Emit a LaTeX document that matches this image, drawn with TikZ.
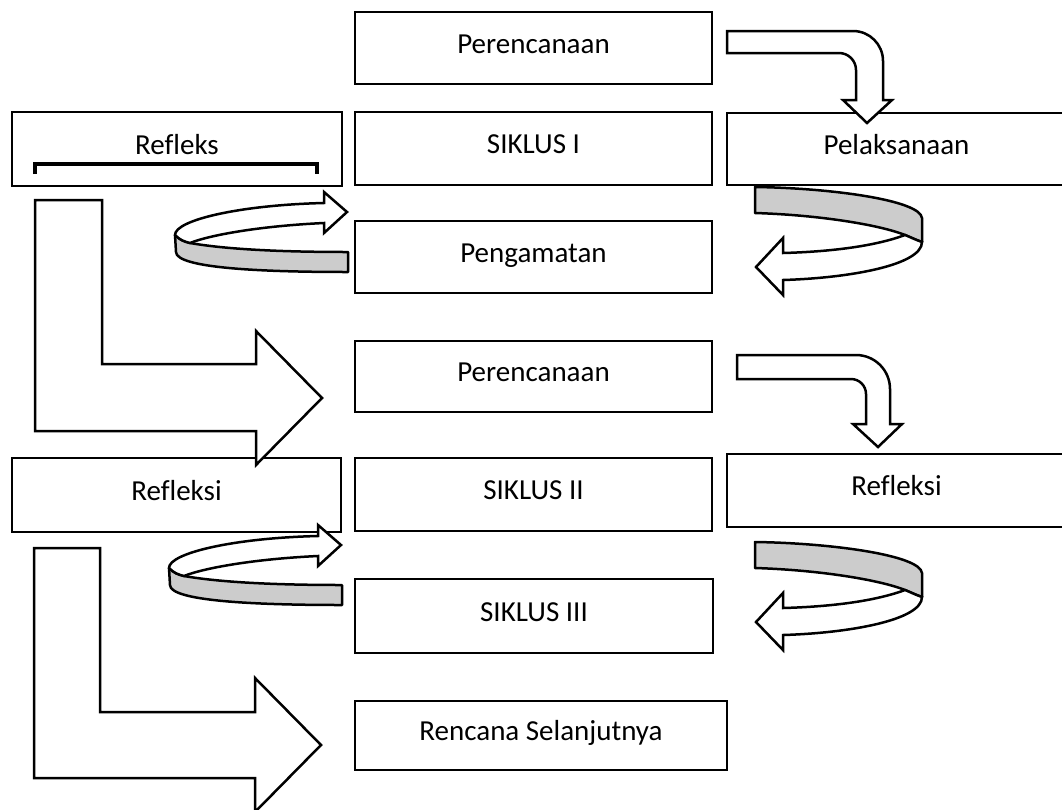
\documentclass[tikz,border=0pt]{standalone}
\usepackage{fontspec}
\setmainfont{Carlito}[Ligatures=NoCommon]
\definecolor{ribbongray}{HTML}{CCCCCC}
\begin{document}
\begin{tikzpicture}[x=1pt,y=-1pt,
  box/.style={draw, line width=2.6pt, fill=white, rectangle, inner sep=0pt, outer sep=0pt,
    text height=20pt, text depth=10pt, font=\fontsize{29}{34}\selectfont},
  blockarrow/.style={draw, line width=2.5pt, fill=white, line join=miter},
  ribbon/.style={draw, line width=2.5pt, fill=ribbongray, line join=round},
  ribbonhead/.style={draw, line width=2.5pt, fill=white, line join=miter},
  % curled arrow turning back to the right (left column)
  curlright/.pic={
    \path[ribbon] (175,235) .. controls (180,240) and (184,241.5) .. (190,243)
      .. controls (230,250) and (290,252) .. (348,252) -- (348,272)
      .. controls (260,272) and (176,268) .. (176,252) -- cycle;
    \path[ribbonhead] (175,235) .. controls (175,220) and (240,205) .. (324,203)
      -- (324,192) -- (347,212) -- (324,233) -- (324,223)
      .. controls (260,226) and (210,235) .. (190,243)
      .. controls (184,241.5) and (180,240) .. (175,235) -- cycle;
  },
  % curled arrow turning back to the left (right column)
  curlleft/.pic={
    \path[ribbon] (755,187) .. controls (830,188) and (920,200) .. (922,218) -- (922,242)
      .. controls (916,240) and (910,237) .. (905,235)
      .. controls (880,225) and (820,215) .. (755,213) -- cycle;
    \path[ribbonhead] (905,235) .. controls (870,248) and (820,252) .. (783,253)
      -- (783,238) -- (756,267) -- (783,295) -- (783,280)
      .. controls (850,278) and (922,265) .. (922,242)
      .. controls (916,240) and (910,237) .. (905,235) -- cycle;
  }]
\clip (0,0) rectangle (1062,809);

% boxes
\node[box, minimum width=357pt, minimum height=72pt] (plan1) at (533.5,48) {Perencanaan};
\node[box, minimum width=330pt, minimum height=74pt] (refleks) at (177,149) {Refleks};
\node[box, minimum width=357pt, minimum height=73pt] (siklus1) at (533.5,148.5) {SIKLUS I};
\node[box, minimum width=339pt, minimum height=72pt] (laksana) at (896.5,149) {Pelaksanaan};
\node[box, minimum width=357pt, minimum height=72pt] (amat) at (533.5,257) {Pengamatan};
\node[box, minimum width=357pt, minimum height=71pt] (plan2) at (533.5,376.5) {Perencanaan};
\node[box, minimum width=329pt, minimum height=74pt] (reflkiri) at (176.5,495) {Refleksi};
\node[box, minimum width=357pt, minimum height=73pt] (siklus2) at (533.5,494.5) {SIKLUS II};
\node[box, minimum width=339pt, minimum height=73pt] (reflkanan) at (896.5,490.5) {Refleksi};
\node[box, minimum width=358pt, minimum height=74pt] (siklus3) at (534,616) {SIKLUS III};
\node[box, minimum width=372pt, minimum height=69pt] (lanjut) at (541,735.5) {Rencana Selanjutnya};

% bracket under "Refleks"
\draw[line width=3.3pt, line join=miter] (35,174) -- (35,164) -- (317,164) -- (317,174);

% bent arrows (top right)
\path[blockarrow] (727,31) -- (853,31) .. controls (869.6,31) and (883,44.4) .. (883,61)
  -- (883,100) -- (892,100) -- (867,123) -- (843,100) -- (856,100) -- (856,70)
  .. controls (856,60.6) and (848.4,53) .. (839,53) -- (727,53) -- cycle;
\path[blockarrow] (737,355) -- (856,355) .. controls (874.8,355) and (890,370.2) .. (890,389)
  -- (890,424) -- (902,424) -- (878,447) -- (853,424) -- (866,424) -- (866,394)
  .. controls (866,385.7) and (859.3,379) .. (851,379) -- (737,379) -- cycle;

% L-shaped arrows (left)
\path[blockarrow] (35,200) -- (102,200) -- (102,364) -- (256,364) -- (256,331)
  -- (322,398) -- (256,465) -- (256,431) -- (35,431) -- cycle;
\path[blockarrow] (34,548) -- (100,548) -- (100,712) -- (255,712) -- (255,678)
  -- (321,745) -- (255,812) -- (255,778) -- (34,778) -- cycle;

% curled arrows
\pic at (0,0) {curlright};
\pic at (-6,333) {curlright};
\pic at (0,0) {curlleft};
\pic at (0,355) {curlleft};
\end{tikzpicture}
\end{document}
